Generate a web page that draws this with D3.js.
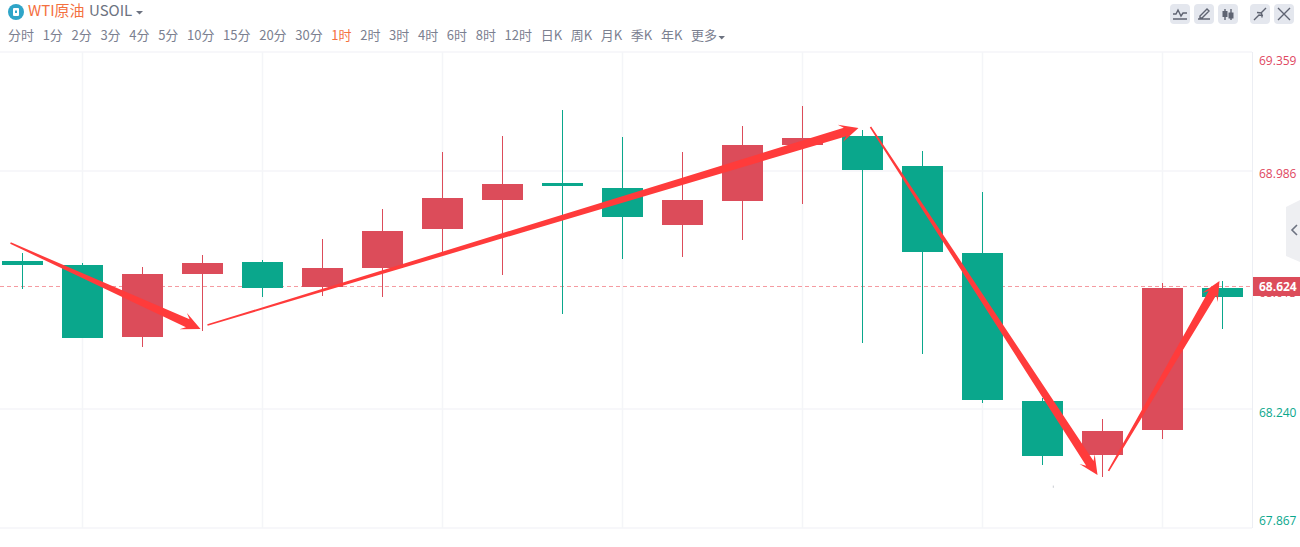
<!DOCTYPE html>
<html>
<head>
<meta charset="utf-8">
<script src="https://cdn.jsdelivr.net/npm/d3@7"></script>
<style>
  html, body { margin: 0; padding: 0; background: #fff; overflow: hidden; }
  svg { display: block; }
  text { font-family: "Noto Sans CJK SC", "Noto Sans", sans-serif; }
  .axis text { font-family: "Open Sans", "Noto Sans", sans-serif; font-size: 12px; }
  .axis path, .axis line { display: none; }
</style>
</head>
<body>
<div id="chart"></div>
<script>
const W = 1300, H = 547;

// hourly candles, left to right
const CANDLES = d3.range(21).map(String);
const OPEN  = [68.704, 68.691, 68.466, 68.663, 68.701, 68.622, 68.682, 68.804, 68.895, 68.948, 68.933, 68.817, 68.892, 69.068, 69.096, 69.002, 68.729, 68.265, 68.096, 68.174, 68.619];
const CLOSE = [68.691, 68.463, 68.663, 68.698, 68.619, 68.682, 68.798, 68.901, 68.945, 68.939, 68.842, 68.895, 69.068, 69.089, 68.989, 68.732, 68.268, 68.093, 68.171, 68.619, 68.591];
const HIGH  = [68.729, 68.698, 68.685, 68.723, 68.707, 68.773, 68.867, 69.046, 69.096, 69.177, 69.093, 69.046, 69.127, 69.190, 69.115, 69.049, 68.920, 68.275, 68.209, 68.635, 68.641];
const LOW   = [68.616, 68.463, 68.434, 68.485, 68.591, 68.594, 68.591, 68.723, 68.660, 68.538, 68.710, 68.716, 68.770, 68.883, 68.447, 68.412, 68.259, 68.065, 68.027, 68.146, 68.491];

const PRICE_TICKS = [69.359, 68.986, 68.240, 67.867];
const TICK_NUDGE = [9, 3, 4, -7];    // labels at the edges sit inside the plot
const LAST_PRICE = 68.624;
const HIDDEN_PRICE = "68.613";       // peeks out below the last price tag

// hand-drawn arrows: [candle position, price] for tail and head
const ARROWS = [
  { tail: [-0.2, 68.760],  head: [2.967, 68.491] },
  { tail: [3.083, 68.503], head: [13.933, 69.121] },
  { tail: [14.133, 69.124], head: [17.917, 68.033] },
  { tail: [18.1, 68.046],  head: [19.95, 68.641] }
];

const TABS = ["分时","1分","2分","3分","4分","5分","10分","15分","20分","30分","1时","2时","3时","4时","6时","8时","12时","日K","周K","月K","季K","年K","更多"];
const ACTIVE_TAB = "1时";
const TAB_GAP = 8.65;

const RED = "#dc4c5a", GREEN = "#0aa78c", GRID = "#f4f5f8", ARROW = "#ff3b3b";
const PLOT = { top: 52, bottom: 528, right: 1252 };

const svg = d3.select("#chart").append("svg").attr("width", W).attr("height", H);

const x = d3.scaleBand().domain(CANDLES).range([-7.5, PLOT.right + 0.5]).paddingInner(19 / 60).paddingOuter(19 / 120);
const y = d3.scaleLinear().domain([PRICE_TICKS[3], PRICE_TICKS[0]]).range([PLOT.bottom, PLOT.top]);
const cx = i => x("0") + x.bandwidth() / 2 + i * x.step();
const py = v => Math.round(y(v));   // snap to whole pixels so the candles stay crisp

// grid
const grid = svg.append("g").attr("stroke", GRID).attr("stroke-width", 1.5);
grid.selectAll(".h").data(PRICE_TICKS).join("line")
    .attr("x1", 0).attr("x2", PLOT.right).attr("y1", d => y(d)).attr("y2", d => y(d));
grid.selectAll(".v").data(d3.range(1, 21, 3)).join("line")
    .attr("x1", cx).attr("x2", cx).attr("y1", PLOT.top).attr("y2", PLOT.bottom);
svg.append("line").attr("x1", PLOT.right + 0.5).attr("x2", PLOT.right + 0.5)
    .attr("y1", PLOT.top).attr("y2", PLOT.bottom).attr("stroke", "#eceef3");

// price axis
const axis = svg.append("g").attr("class", "axis")
    .attr("transform", `translate(${PLOT.right},0)`)
    .call(d3.axisRight(y).tickValues(PRICE_TICKS).tickSize(0).tickPadding(7).tickFormat(d3.format(".3f")));
axis.selectAll("text")
    .attr("transform", (d, i) => `translate(0,${TICK_NUDGE[i]})`)
    .attr("dy", "0.32em")
    .attr("fill", d => d > LAST_PRICE ? "#e0485f" : "#0aa78c");

// last price line
svg.append("line").attr("x1", 0).attr("x2", PLOT.right)
    .attr("y1", y(LAST_PRICE)).attr("y2", y(LAST_PRICE))
    .attr("stroke", "#f59aa0").attr("stroke-dasharray", "4 3");

// candles
const candles = svg.append("g").selectAll("g").data(CANDLES).join("g")
    .attr("fill", (d, i) => CLOSE[i] >= OPEN[i] ? RED : GREEN)
    .attr("stroke", (d, i) => CLOSE[i] >= OPEN[i] ? RED : GREEN);
candles.append("line")
    .attr("x1", (d, i) => cx(i)).attr("x2", (d, i) => cx(i))
    .attr("y1", (d, i) => py(HIGH[i])).attr("y2", (d, i) => py(LOW[i]));
candles.append("rect")
    .attr("stroke", "none")
    .attr("x", d => x(d))
    .attr("width", x.bandwidth())
    .attr("y", (d, i) => py(Math.max(OPEN[i], CLOSE[i])))
    .attr("height", (d, i) => py(Math.min(OPEN[i], CLOSE[i])) - py(Math.max(OPEN[i], CLOSE[i])));

// last price tag
svg.append("text").attr("x", 1259).attr("y", y(LAST_PRICE) + 11)
    .attr("font-size", 12).attr("fill", RED).text(HIDDEN_PRICE)
    .style("font-family", '"Open Sans", sans-serif');
svg.append("rect").attr("x", PLOT.right + 1).attr("y", y(LAST_PRICE) - 9.5)
    .attr("width", W - PLOT.right - 1).attr("height", 19).attr("fill", RED);
svg.append("text").attr("x", 1259).attr("y", y(LAST_PRICE)).attr("dy", "0.35em")
    .attr("font-size", 12).attr("font-weight", 700).attr("fill", "#fff").text(d3.format(".3f")(LAST_PRICE))
    .style("font-family", '"Open Sans", sans-serif');

// arrows taper from a thin tail up to the head
function arrowPath(a) {
  const x0 = cx(a.tail[0]), y0 = y(a.tail[1]), x1 = cx(a.head[0]), y1 = y(a.head[1]);
  const len = Math.hypot(x1 - x0, y1 - y0);
  const ux = (x1 - x0) / len, uy = (y1 - y0) / len, nx = -uy, ny = ux;
  const pt = (along, side) => [x1 - ux * along + nx * side, y1 - uy * along + ny * side];
  return d3.line()([
    [x0 + nx * 0.8, y0 + ny * 0.8], pt(14, 4.4), pt(19, 9), [x1, y1], pt(19, -9), pt(14, -4.4), [x0 - nx * 0.8, y0 - ny * 0.8]
  ]) + "Z";
}
svg.append("g").selectAll("path").data(ARROWS).join("path").attr("fill", ARROW).attr("d", arrowPath);

// stray tick under the lows
svg.append("line").attr("x1", cx(17.18)).attr("x2", cx(17.18))
    .attr("y1", y(68.000)).attr("y2", y(67.993)).attr("stroke", "#c9ccd2");

// header
const head = svg.append("g");
head.append("circle").attr("cx", 16).attr("cy", 12).attr("r", 8).attr("fill", "#2fa5c8");
head.append("rect").attr("x", 13).attr("y", 8).attr("width", 6).attr("height", 8).attr("rx", 1).attr("fill", "#fff");
head.append("rect").attr("x", 15).attr("y", 10.5).attr("width", 2).attr("height", 2.5).attr("fill", "#2fa5c8");
head.append("text").attr("x", 28).attr("y", 16).attr("font-size", 15).attr("fill", "#f4703f").text("WTI原油");
head.append("text").attr("x", 89).attr("y", 16).attr("font-size", 15).attr("fill", "#6c7280").text("USOIL");
head.append("path").attr("d", "M136 11h7l-3.5 3.5z").attr("fill", "#6c7280");

// timeframe tabs, laid out one after the other
let tabX = 8;
TABS.forEach(t => {
  const el = head.append("text").attr("x", tabX).attr("y", 40).attr("font-size", 13)
      .attr("fill", t === ACTIVE_TAB ? "#f4703f" : "#7b8090").text(t);
  tabX += el.node().getComputedTextLength() + TAB_GAP;
});
head.append("path").attr("d", `M${tabX - TAB_GAP + 1.5} 36h6.5l-3.2 3.5z`).attr("fill", "#6c7280");

// toolbar buttons
const BUTTONS = [1170, 1194, 1218, 1250, 1274];
const ICONS = [
  "M3 15h14M3 10h3l2-4 3 6 2-3h4",
  "M4 15h12M6 12l7-7 2 2-7 7h-2z",
  "M7 5v11M13 5v11",
  "M4 16l5-5M11 9l5-5M7 8.5l4.5.5.5 4.5M13 11.5l-4.5-.5",
  "M4 4l12 12M16 4l-12 12"
];
const btn = svg.append("g").selectAll("g").data(BUTTONS).join("g").attr("transform", d => `translate(${d},4)`);
btn.append("rect").attr("width", 20).attr("height", 20).attr("rx", 4).attr("fill", "#e4e7ee");
btn.append("path").attr("d", (d, i) => ICONS[i]).attr("fill", "none").attr("stroke", "#5f6472").attr("stroke-width", 1.4);
btn.filter((d, i) => i === 2).selectAll(".bar").data([[4.5, 7, 5], [10.5, 8.5, 5]]).join("rect")
    .attr("x", d => d[0]).attr("y", d => d[1]).attr("width", 5).attr("height", d => d[2] + 1).attr("fill", "#5f6472");

// side handle
svg.append("path").attr("d", "M1300 200L1286 207V256L1300 262Z").attr("fill", "#eeeff2");
svg.append("path").attr("d", "M1297 225l-5 5 5 5").attr("fill", "none").attr("stroke", "#6c7280").attr("stroke-width", 1.6);
</script>
</body>
</html>
